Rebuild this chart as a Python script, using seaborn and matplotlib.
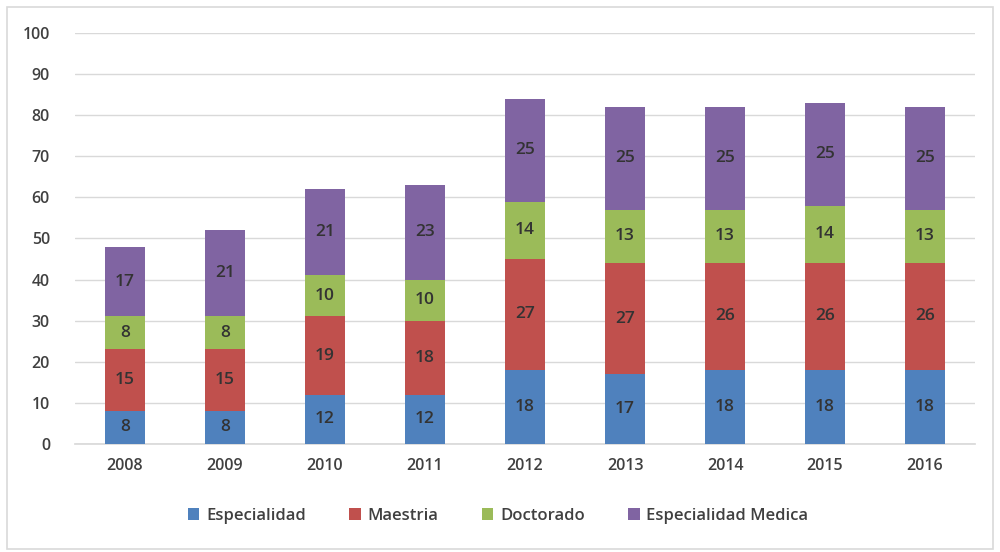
import pandas as pd
import matplotlib.pyplot as plt
import seaborn as sns
from matplotlib.patches import Rectangle

years = ["2008", "2009", "2010", "2011", "2012", "2013", "2014", "2015", "2016"]
especialidad = [8, 8, 12, 12, 18, 17, 18, 18, 18]
maestria = [15, 15, 19, 18, 27, 27, 26, 26, 26]
doctorado = [8, 8, 10, 10, 14, 13, 13, 14, 13]
esp_medica = [17, 21, 21, 23, 25, 25, 25, 25, 25]

series_names = ["Especialidad", "Maestria", "Doctorado", "Especialidad Medica"]
series_vals = [especialidad, maestria, doctorado, esp_medica]
colors = ["#4F81BD", "#C0504D", "#9BBB59", "#8064A2"]

sns.set_theme(style="white")
plt.rcParams['font.family'] = ['Open Sans', 'DejaVu Sans']

fig = plt.figure(figsize=(10, 5.52), dpi=100)
ax = fig.add_axes([0.075, 0.196, 0.9, 0.744])

bottom = pd.Series([0] * len(years), dtype=float)
for name, vals, col in zip(series_names, series_vals, colors):
    df = pd.DataFrame({"year": years, "value": vals})
    sns.barplot(data=df, x="year", y="value", order=years, color=col,
                saturation=1, width=0.4, bottom=bottom.values, label=name, ax=ax,
                edgecolor="none", linewidth=0, zorder=3)
    for i, v in enumerate(vals):
        ax.text(i, bottom[i] + v / 2, str(v), ha="center", va="center",
                fontsize=12.5, fontweight="semibold", color="#333333", zorder=4)
    bottom = bottom + pd.Series(vals, dtype=float)

ax.set_ylim(0, 100)
ax.set_xlim(-0.5, len(years) - 0.5)
ax.set_yticks(range(0, 101, 10))
ax.yaxis.grid(True, color="#d9d9d9", linewidth=1, zorder=0)
ax.set_xlabel("")
ax.set_ylabel("")
for s in ["top", "right", "left"]:
    ax.spines[s].set_visible(False)
ax.spines["bottom"].set_color("#d9d9d9")
ax.tick_params(axis="both", length=0, labelsize=11.5, colors="#404040", pad=10)
ax.tick_params(axis="y", pad=18)
for lbl in ax.get_xticklabels() + ax.get_yticklabels():
    lbl.set_fontweight("semibold")

leg = ax.legend(loc="upper center", bbox_to_anchor=(0.47, -0.12), ncol=4, frameon=False,
                fontsize=12, handlelength=0.7, handleheight=0.7, columnspacing=2.6,
                handletextpad=0.4, labelcolor="#404040")
for t in leg.get_texts():
    t.set_fontweight("semibold")

fig.patches.append(Rectangle((0.007, 0.005), 0.986, 0.982, transform=fig.transFigure,
                             fill=False, edgecolor="#d9d9d9", linewidth=1.2))

fig.savefig("out.png", dpi=100, facecolor="white")
